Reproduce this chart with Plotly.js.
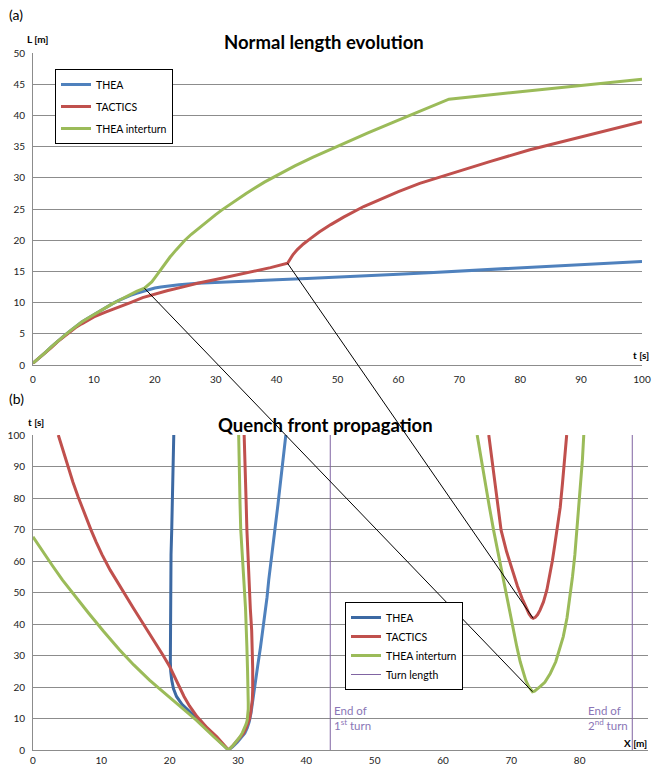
<!DOCTYPE html>
<html>
<head>
<meta charset="utf-8">
<script src="https://cdn.plot.ly/plotly-3.0.1.min.js"></script>
<style>html,body{margin:0;padding:0;background:#fff}#chart{width:652px;height:768px}</style>
</head>
<body>
<div id="chart"></div>
<script>
// ---------- (a) Normal length evolution ----------
const theaTime = [0, 1, 2, 3, 4, 5, 6, 7, 8, 9, 10, 11, 12, 13, 14, 15, 16, 17, 18, 19, 20, 21, 22, 24, 27, 30, 35, 40, 45, 50, 55, 60, 65, 70, 80, 90, 100];
const theaLength = [0.3, 1.1, 2.0, 2.9, 3.8, 4.6, 5.4, 6.2, 6.9, 7.5, 8.1, 8.7, 9.3, 9.8, 10.3, 10.75, 11.15, 11.5, 11.8, 12.1, 12.35, 12.5, 12.65, 12.85, 13.1, 13.25, 13.45, 13.65, 13.85, 14.05, 14.3, 14.55, 14.8, 15.05, 15.6, 16.1, 16.6];

const tacticsTime = [0, 1, 2, 3, 4, 5, 6, 7, 8, 9, 10, 12, 14, 16, 18, 20, 22, 25, 27, 30, 33, 36, 39, 41.8, 42.2, 42.7, 43.4, 44.4, 45.6, 47, 48.9, 51, 54.3, 57, 60, 63.5, 67.4, 71, 75, 81.6, 86, 90, 95, 100];
const tacticsLength = [0.3, 1.1, 2.0, 2.8, 3.7, 4.5, 5.3, 6.0, 6.6, 7.2, 7.7, 8.5, 9.2, 10.0, 10.8, 11.4, 11.9, 12.6, 13.1, 13.7, 14.3, 14.9, 15.6, 16.3, 17.0, 17.7, 18.5, 19.4, 20.3, 21.3, 22.5, 23.7, 25.4, 26.6, 27.8, 29.1, 30.3, 31.4, 32.6, 34.5, 35.6, 36.6, 37.85, 39.0];

const interTime = [0, 1, 2, 3, 4, 5, 6, 7, 8, 9, 10, 11, 12, 13, 14, 15, 16, 17, 18.3, 19, 19.5, 20, 20.5, 21, 21.6, 22.5, 23.5, 24.9, 26, 28, 30, 31.1, 33, 35, 38, 40.2, 43, 46, 50.5, 55, 60, 64, 68.3, 80, 90, 100];
const interLength = [0.3, 1.1, 2.0, 2.9, 3.8, 4.6, 5.4, 6.2, 6.9, 7.5, 8.1, 8.7, 9.3, 9.8, 10.3, 10.8, 11.3, 11.8, 12.3, 12.8, 13.3, 13.95, 14.65, 15.35, 16.2, 17.3, 18.45, 19.95, 20.95, 22.6, 24.1, 24.9, 26.2, 27.5, 29.3, 30.5, 31.9, 33.3, 35.3, 37.2, 39.25, 40.85, 42.6, 43.8, 44.8, 45.8];

// ---------- (b) Quench front propagation ----------
const theaLeftT = [0, 2, 4.2, 7, 9.5, 11, 12.7, 14.5, 17, 19.5, 22.2, 25, 28, 35, 45, 54, 62, 69.8, 78, 85, 92, 100];
const theaLeftX = [28.6, 27.6, 26.6, 25.4, 24.4, 23.5, 22.6, 21.8, 21.0, 20.55, 20.3, 20.15, 20.1, 20.1, 20.1, 20.15, 20.2, 20.3, 20.4, 20.45, 20.5, 20.6];
const theaRightT = [0, 1, 2.5, 4, 5.3, 7, 9, 11.7, 15, 18.5, 22.2, 27, 32.8, 38, 43.4, 48.5, 54, 62, 70, 78, 85, 92, 100];
const theaRightX = [28.6, 29.2, 29.9, 30.5, 31.0, 31.35, 31.65, 31.9, 32.1, 32.3, 32.5, 32.9, 33.3, 33.65, 34.0, 34.25, 34.5, 35.0, 35.4, 35.85, 36.25, 36.6, 37.0];

const tacticsLeftT = [0, 2, 4.2, 7, 10.6, 14, 17, 20.1, 23, 26.5, 30, 33, 36.5, 40, 45, 50, 54, 57.1, 62, 66, 69.8, 75, 80.4, 85, 90, 95, 100];
const tacticsLeftX = [28.6, 27.8, 26.9, 25.5, 24.0, 22.9, 22.1, 21.4, 20.75, 20.0, 19.05, 18.2, 17.2, 16.15, 14.7, 13.3, 12.15, 11.3, 10.1, 9.25, 8.5, 7.55, 6.6, 5.85, 5.1, 4.4, 3.7];
const tacticsRightT = [0, 1.5, 3, 5.3, 7, 8.5, 10, 11.7, 14, 16, 19, 22.2, 26, 30, 38, 45, 54, 62, 70, 78, 85, 92, 100];
const tacticsRightX = [28.6, 29.3, 29.9, 30.8, 31.2, 31.5, 31.7, 31.85, 32.0, 32.1, 32.15, 32.2, 32.15, 32.1, 32.0, 31.8, 31.6, 31.45, 31.3, 31.2, 31.1, 31.0, 30.9];
const tacticsTurn2T = [100, 92, 85, 78, 69.8, 63, 57.1, 52, 48, 45, 43.2, 42.1, 41.8, 42.1, 43, 44.4, 47, 50.8, 55, 60, 65, 69.8, 77, 85, 92, 100];
const tacticsTurn2X = [66.7, 67.2, 67.6, 68.0, 68.5, 69.3, 70.1, 70.9, 71.6, 72.2, 72.6, 72.95, 73.2, 73.5, 73.85, 74.2, 74.7, 75.2, 75.6, 76.0, 76.35, 76.7, 77.15, 77.5, 77.8, 78.1];

const interLeftT = [0, 4.2, 9.5, 12.7, 15.9, 19, 22.2, 27, 31.8, 37.6, 43.4, 48.5, 54, 58.5, 63, 67.7];
const interLeftX = [28.6, 26.45, 23.9, 22.2, 20.45, 18.75, 17.05, 14.75, 12.65, 10.35, 8.15, 6.25, 4.3, 2.85, 1.4, 0];
const interRightT = [0, 1.5, 3, 4.2, 5.5, 7, 8.3, 9.5, 11, 13, 15, 17, 20, 25, 32.8, 40, 45, 54, 62, 70, 78, 85, 92, 100];
const interRightX = [28.6, 29.3, 29.9, 30.3, 30.65, 31.0, 31.2, 31.35, 31.45, 31.5, 31.5, 31.5, 31.45, 31.4, 31.3, 31.2, 31.1, 30.85, 30.6, 30.4, 30.3, 30.25, 30.15, 30.1];
const interTurn2T = [100, 92, 85, 77, 69.8, 62, 55, 48.7, 43, 38, 32.8, 28, 25, 22.2, 20.3, 19.0, 18.5, 18.7, 19.3, 20.1, 21.5, 24.3, 28, 32, 36, 42, 48.7, 55, 62, 69.8, 77, 85, 92, 100];
const interTurn2X = [65.0, 65.6, 66.2, 66.8, 67.4, 68.1, 68.8, 69.4, 69.9, 70.3, 70.8, 71.3, 71.7, 72.1, 72.5, 72.85, 73.1, 73.4, 73.8, 74.2, 74.9, 75.7, 76.5, 77.1, 77.6, 78.15, 78.6, 78.95, 79.3, 79.6, 79.9, 80.15, 80.4, 80.6];

const turnEnds = [43.5, 87.7];      // X [m] of end of 1st and 2nd turn
const turnLabels = ["End of<br>1<sup>st</sup> turn", "End of<br>2<sup>nd</sup> turn"];

// links from the kinks in (a) to the second-turn starts in (b)
const linkTopT = [18.3, 41.8];
const linkTopL = [12.3, 16.3];
const linkBottomX = [73.1, 73.2];
const linkBottomT = [18.5, 41.8];

const seriesNames = ["THEA", "TACTICS", "THEA interturn", "Turn length"];

// ---------- styling ----------
const FONT = "Lato, 'Open Sans', sans-serif";
const BLUE = "#4F81BD", BLUE_DARK = "#3C69A3", RED = "#C0504D", GREEN = "#9BBB59", PURPLE = "#8064A2";
const GRID = "#8C8C8C";

function joinPath(xs1, ys1, xs2, ys2) {
  return { x: xs1.slice().reverse().concat(xs2), y: ys1.slice().reverse().concat(ys2) };
}
const tacV = joinPath(tacticsLeftX, tacticsLeftT, tacticsRightX, tacticsRightT);
const intV = joinPath(interLeftX, interLeftT, interRightX, interRightT);

const turnX = [], turnY = [];
turnEnds.forEach((v, i) => { if (i) { turnX.push(null); turnY.push(null); } turnX.push(v, v); turnY.push(0, 100); });

const lw = 3;
const traces = [
  { x: theaTime, y: theaLength, name: seriesNames[0], mode: "lines", line: { color: BLUE, width: lw }, xaxis: "x", yaxis: "y", legend: "legend", legendgroup: "a1" },
  { x: tacticsTime, y: tacticsLength, name: seriesNames[1], mode: "lines", line: { color: RED, width: lw }, xaxis: "x", yaxis: "y", legend: "legend", legendgroup: "a2" },
  { x: interTime, y: interLength, name: seriesNames[2], mode: "lines", line: { color: GREEN, width: lw }, xaxis: "x", yaxis: "y", legend: "legend", legendgroup: "a3" },

  { x: theaRightX, y: theaRightT, name: seriesNames[0], mode: "lines", line: { color: BLUE, width: lw }, xaxis: "x2", yaxis: "y2", showlegend: false, legend: "legend2" },
  { x: theaLeftX, y: theaLeftT, name: seriesNames[0], mode: "lines", line: { color: BLUE_DARK, width: lw }, xaxis: "x2", yaxis: "y2", legend: "legend2", legendgroup: "b1" },
  { x: tacV.x.concat([null], tacticsTurn2X), y: tacV.y.concat([null], tacticsTurn2T), name: seriesNames[1], mode: "lines", line: { color: RED, width: lw }, xaxis: "x2", yaxis: "y2", legend: "legend2", legendgroup: "b2", connectgaps: false },
  { x: intV.x.concat([null], interTurn2X), y: intV.y.concat([null], interTurn2T), name: seriesNames[2], mode: "lines", line: { color: GREEN, width: lw }, xaxis: "x2", yaxis: "y2", legend: "legend2", legendgroup: "b3", connectgaps: false },
  { x: turnX, y: turnY, name: seriesNames[3], mode: "lines", line: { color: PURPLE, width: 1 }, xaxis: "x2", yaxis: "y2", legend: "legend2", legendgroup: "b4", connectgaps: false }
];

// ---------- geometry ----------
const W = 652, H = 768;
const M = { l: 33, r: 4, t: 53, b: 18 };
const plotH = H - M.t - M.b;
const topDomainY = [(H - M.b - 365) / plotH, 1];
const botDomainY = [0, (H - M.b - 435) / plotH];
const topDomainX = [0, (642 - M.l) / (W - M.l - M.r)];
const botDomainX = [0, 1];
const rangeT = [0, 100], rangeL = [0, 50], rangeX = [0, 90], rangeTb = [0, 100];

function toPaper(v, range, dom) { return dom[0] + (v - range[0]) / (range[1] - range[0]) * (dom[1] - dom[0]); }

const shapes = linkTopT.map((t, i) => ({
  type: "line", xref: "paper", yref: "paper",
  x0: toPaper(t, rangeT, topDomainX), y0: toPaper(linkTopL[i], rangeL, topDomainY),
  x1: toPaper(linkBottomX[i], rangeX, botDomainX), y1: toPaper(linkBottomT[i], rangeTb, botDomainY),
  line: { color: "#000", width: 1 }
}));

const txt = { family: FONT, size: 10, color: "#222" };
const boldTxt = { family: FONT, size: 10, color: "#000", weight: "bold" };
function pap(px, py) { return { x: (px - M.l) / (W - M.l - M.r), y: (H - M.b - py) / plotH }; }
function note(text, px, py, font, xanchor) {
  return Object.assign({ text: text, xref: "paper", yref: "paper", showarrow: false, xanchor: xanchor || "center", yanchor: "middle", font: font }, pap(px, py));
}

const titleFont = { family: FONT, size: 18.5, color: "#000", weight: "bold" };
const annotations = [
  note("(a)", 16, 14, { family: FONT, size: 14, color: "#000" }),
  note("(b)", 16.5, 398, { family: FONT, size: 14, color: "#000" }),
  note("Normal length evolution", 324, 42, titleFont),
  note("Quench front propagation", 325.5, 425, titleFont),
  note("L [m]", 37, 39, boldTxt),
  note("t [s]", 641, 355, boldTxt),
  note("t [s]", 35.5, 421.5, boldTxt),
  note("X [m]", 649, 743, boldTxt, "right"),
  { text: turnLabels[0], xref: "x2", yref: "y2", x: turnEnds[0] + 0.3, y: 10.3, showarrow: false, xanchor: "left", yanchor: "middle", align: "left", font: { family: FONT, size: 11.5, color: "#8A76B6" } },
  { text: turnLabels[1], xref: "x2", yref: "y2", x: turnEnds[1] - 0.4, y: 10.3, showarrow: false, xanchor: "right", yanchor: "middle", align: "left", font: { family: FONT, size: 11.5, color: "#8A76B6" } }
];

const axisCommon = {
  showline: true, linecolor: GRID, linewidth: 1, zeroline: false, mirror: false,
  tickfont: txt, ticks: "outside", ticklen: 5, tickcolor: "rgba(0,0,0,0)", fixedrange: true
};

const legendCommon = { xref: "paper", yref: "paper", xanchor: "left", yanchor: "top", bgcolor: "#fff", bordercolor: "#000", borderwidth: 1,
  font: { family: FONT, size: 10.5, color: "#000" }, traceorder: "grouped", itemwidth: 30 };

const layout = {
  width: W, height: H, margin: M, paper_bgcolor: "#fff", plot_bgcolor: "#fff",
  font: { family: FONT, size: 10, color: "#222" },
  showlegend: true,
  xaxis: Object.assign({}, axisCommon, { domain: topDomainX, range: rangeT, dtick: 10, showgrid: false, anchor: "y" }),
  yaxis: Object.assign({}, axisCommon, { domain: topDomainY, range: rangeL, dtick: 5, showgrid: true, gridcolor: GRID, gridwidth: 1, anchor: "x" }),
  xaxis2: Object.assign({}, axisCommon, { domain: botDomainX, range: rangeX, dtick: 10, showgrid: false, anchor: "y2", ticklen: 1 }),
  yaxis2: Object.assign({}, axisCommon, { domain: botDomainY, range: rangeTb, dtick: 10, showgrid: true, gridcolor: GRID, gridwidth: 1, anchor: "x2" }),
  legend: Object.assign({}, legendCommon, { tracegroupgap: 3 }, pap(55, 69)),
  legend2: Object.assign({}, legendCommon, { tracegroupgap: 0 }, pap(345, 602)),
  shapes: shapes,
  annotations: annotations
};

Plotly.newPlot("chart", traces, layout, { displayModeBar: false, staticPlot: true });
</script>
</body>
</html>
